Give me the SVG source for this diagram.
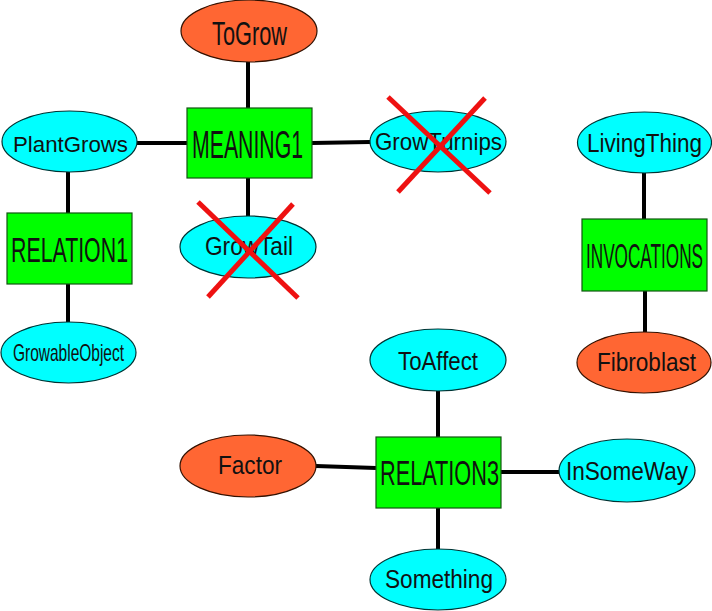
<svg xmlns="http://www.w3.org/2000/svg" width="712" height="611" viewBox="0 0 712 611">
<style>
.cy{fill:#00ffff;stroke:#003333;stroke-width:1.2}
.or{fill:#ff6633;stroke:#331100;stroke-width:1.2}
.gr{fill:#00ff00;stroke:#115511;stroke-width:1.2}
.e line{stroke:#000;stroke-width:4}
.x{stroke:#ee1111;stroke-width:5}
text{font-family:"Liberation Sans",Arial,sans-serif;fill:#111;text-anchor:middle}
</style>
<rect width="712" height="611" fill="#fff"/>
<g id="edges" class="e">
<line x1="248" y1="62" x2="248" y2="108"/>
<line x1="137" y1="143" x2="187" y2="143"/>
<line x1="312" y1="143" x2="370" y2="142"/>
<line x1="248" y1="178" x2="248" y2="217"/>
<line x1="68" y1="172" x2="68" y2="213"/>
<line x1="68" y1="284" x2="68" y2="322"/>
<line x1="644" y1="173" x2="644" y2="219"/>
<line x1="645" y1="291" x2="645" y2="332"/>
<line x1="438" y1="391" x2="438" y2="437"/>
<line x1="316" y1="466" x2="376" y2="468"/>
<line x1="501" y1="472" x2="559" y2="472"/>
<line x1="438" y1="508" x2="438" y2="549"/>
</g>
<g id="ToGrow"><ellipse class="or" cx="249" cy="31" rx="68" ry="31"/><text x="249.5" y="45" font-size="33" textLength="75" lengthAdjust="spacingAndGlyphs">ToGrow</text></g>
<g id="MEANING1"><rect class="gr" x="187" y="108" width="125" height="70"/><text x="247.5" y="158" font-size="39" textLength="111" lengthAdjust="spacingAndGlyphs">MEANING1</text></g>
<g id="PlantGrows"><ellipse class="cy" cx="69.5" cy="141.5" rx="67.5" ry="30.5"/><text x="70.5" y="152" font-size="22" textLength="115" lengthAdjust="spacingAndGlyphs">PlantGrows</text></g>
<g id="GrowTail"><ellipse class="cy" cx="248" cy="247" rx="68" ry="31"/><text x="249" y="255" font-size="25" textLength="88" lengthAdjust="spacingAndGlyphs">GrowTail</text><line class="x" x1="198" y1="202" x2="298" y2="298"/><line class="x" x1="293" y1="204" x2="208" y2="297"/></g>
<g id="RELATION1"><rect class="gr" x="7" y="213" width="125" height="71"/><text x="69.5" y="262" font-size="35" textLength="117" lengthAdjust="spacingAndGlyphs">RELATION1</text></g>
<g id="GrowableObject"><ellipse class="cy" cx="68.5" cy="352.5" rx="67.5" ry="30.5"/><text x="68.5" y="361" font-size="24" textLength="111" lengthAdjust="spacingAndGlyphs">GrowableObject</text></g>
<g id="GrowTurnips"><ellipse class="cy" cx="438" cy="141.5" rx="68" ry="30.5"/><text x="438.5" y="150" font-size="24" textLength="127" lengthAdjust="spacingAndGlyphs">GrowTurnips</text><line class="x" x1="388" y1="97" x2="490" y2="193"/><line class="x" x1="485" y1="98" x2="398" y2="192"/></g>
<g id="LivingThing"><ellipse class="cy" cx="644.5" cy="142.5" rx="67" ry="30.5"/><text x="644.5" y="152" font-size="25" textLength="115" lengthAdjust="spacingAndGlyphs">LivingThing</text></g>
<g id="INVOCATIONS"><rect class="gr" x="582" y="219" width="125" height="72"/><text x="644.5" y="268" font-size="35" textLength="117" lengthAdjust="spacingAndGlyphs">INVOCATIONS</text></g>
<g id="Fibroblast"><ellipse class="or" cx="644" cy="362.5" rx="67" ry="30.5"/><text x="646.5" y="371" font-size="25" textLength="99" lengthAdjust="spacingAndGlyphs">Fibroblast</text></g>
<g id="ToAffect"><ellipse class="cy" cx="438" cy="360" rx="68" ry="31"/><text x="438" y="370" font-size="25" textLength="80" lengthAdjust="spacingAndGlyphs">ToAffect</text></g>
<g id="Factor"><ellipse class="or" cx="248" cy="466" rx="68" ry="31"/><text x="250" y="474" font-size="25" textLength="64" lengthAdjust="spacingAndGlyphs">Factor</text></g>
<g id="RELATION3"><rect class="gr" x="376" y="437" width="125" height="71"/><text x="439.5" y="485" font-size="35" textLength="119" lengthAdjust="spacingAndGlyphs">RELATION3</text></g>
<g id="InSomeWay"><ellipse class="cy" cx="627" cy="470.5" rx="68" ry="31.5"/><text x="627" y="480" font-size="25" textLength="122" lengthAdjust="spacingAndGlyphs">InSomeWay</text></g>
<g id="Something"><ellipse class="cy" cx="438" cy="579.5" rx="68" ry="30.5"/><text x="439" y="588" font-size="26" textLength="108" lengthAdjust="spacingAndGlyphs">Something</text></g>
</svg>
